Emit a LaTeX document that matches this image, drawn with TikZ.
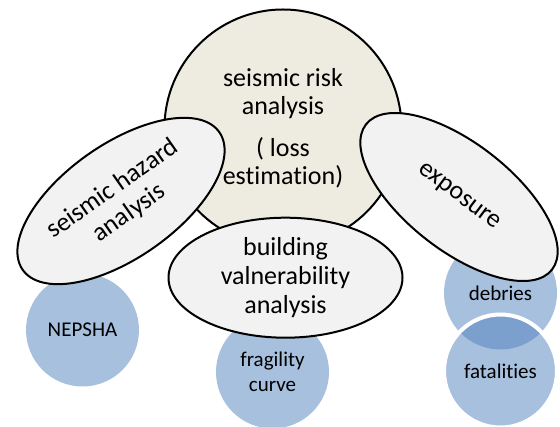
\documentclass[tikz,border=0pt]{standalone}
\usepackage{fontspec}
\setmainfont{Carlito}[Ligatures=NoCommon]
\usetikzlibrary{shapes.geometric}
\definecolor{beige}{HTML}{EEECE1}
\definecolor{lgray}{HTML}{F2F2F2}
\definecolor{lblue}{HTML}{A7C0DE}
\definecolor{dblue}{HTML}{7BA0CD}
\tikzset{
  mainc/.style={circle, draw=black, line width=2pt, fill=beige, minimum size=237pt, inner sep=0pt, align=center, font=\fontsize{26}{28}\selectfont},
  ellip/.style={ellipse, draw=black, line width=2pt, fill=lgray, inner sep=0pt},
  bigtxt/.style={align=center, font=\fontsize{26}{29}\selectfont, inner sep=0pt},
  bluec/.style={circle, fill=lblue, minimum size=113pt, inner sep=0pt, align=center, font=\fontsize{21}{24.7}\selectfont},
}
\begin{document}
\begin{tikzpicture}[x=1pt,y=-1pt]
\useasboundingbox (0,0) rectangle (560,427);
% central circle
\node[mainc] (risk) at (283,128) {seismic risk\\analysis\\[14pt]( loss\\estimation)};
% blue circles
\node[bluec] (nep) at (82.5,330) {NEPSHA};
\node[bluec] (frag) at (272.5,372) {fragility\\curve};
\node[bluec] (deb) at (500.5,293) {};
\node[bluec] (fat) at (500.5,371) {};
\begin{scope}
  \clip (deb.center) circle[radius=56.5pt];
  \fill[dblue] (fat.center) circle[radius=56.5pt];
\end{scope}
\draw[white, line width=4pt] (fat.center) circle[radius=56.5pt];
\node[font=\fontsize{21}{24}\selectfont, inner sep=0pt] (debt) at (deb.center) {debries};
\node[font=\fontsize{21}{24}\selectfont, inner sep=0pt] (fatt) at (fat.center) {fatalities};
% ellipses
\node[ellip, minimum width=240pt, minimum height=114pt, rotate=35] (haz) at (121,201) {};
\node[bigtxt, rotate=35] (hazt) at (haz.center) {seismic hazard\\analysis};
\node[ellip, minimum width=234pt, minimum height=120pt] (bld) at (285.5,277.7) {};
\node[bigtxt] (bldt) at (bld.center) {building\\valnerability\\analysis};
\node[ellip, minimum width=236pt, minimum height=107pt, rotate=-38] (exp) at (459,197) {};
\node[bigtxt, rotate=-37] (expt) at (exp.center) {exposure};
\end{tikzpicture}
\end{document}
